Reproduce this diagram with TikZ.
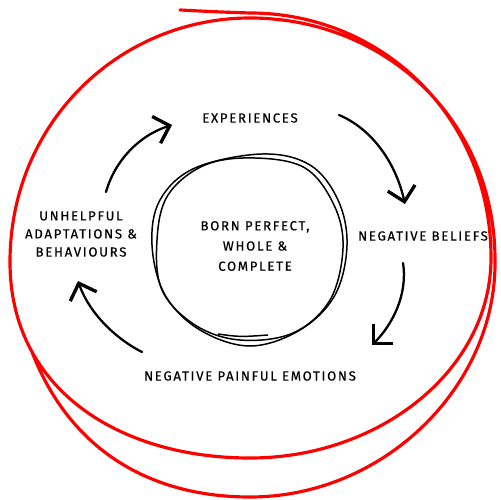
\documentclass[tikz,border=0pt]{standalone}
\usepackage{fontspec}
\setmainfont{Fira Sans}[LetterSpace=13, FakeBold=0.4]
\usetikzlibrary{arrows.meta}
\tikzset{
  lbl/.style={font=\fontsize{7.5}{10}\selectfont, inner sep=1pt, align=center, text=black},
  cyc/.style={line width=1.3pt, line cap=round, -{Straight Barb[length=2.8mm,width=5.6mm,line width=1.9pt]}},
  ring/.style={line width=0.85pt, black},
  redloop/.style={line width=1.8pt, red, line cap=round, line join=round},
}
\begin{document}
\begin{tikzpicture}[x=0.02cm,y=-0.02cm]
\useasboundingbox (0,0) rectangle (500,500);
% red hand-drawn spiral
\coordinate (r0) at (32,352);
\coordinate (rb1) at (250,497);
\coordinate (rr1) at (495,260);
\coordinate (rt1) at (250,18);
\coordinate (rl) at (10,262);
\coordinate (rb2) at (250,458);
\coordinate (rr2) at (491,258);
\coordinate (rt2) at (250,13);
\coordinate (rend) at (180,10);
\draw[redloop] (r0) .. controls (70,450) and (150,497) .. (rb1)
  .. controls (385,497) and (497,385) .. (rr1)
  .. controls (495,120) and (385,18) .. (rt1)
  .. controls (120,18) and (10,122) .. (rl)
  .. controls (10,390) and (120,458) .. (rb2)
  .. controls (380,458) and (491,370) .. (rr2)
  .. controls (491,115) and (380,13) .. (rt2)
  .. controls (220,12) .. (rend);
% inner double ring
\draw[ring] plot[smooth cycle, tension=0.6] coordinates {
 (262,154) (310,165) (338,200) (347,245) (335,295) (300,330) (250,346) (200,330)
 (165,295) (152,245) (160,200) (195,168)};
\draw[ring] plot[smooth cycle, tension=0.6] coordinates {
 (255,158) (305,168) (334,205) (343,248) (330,300) (293,333) (240,340) (195,325)
 (162,290) (157,240) (168,195) (205,165)};
\draw[ring] (218,334) .. controls (240,337) .. (268,335);
% labels
\node[lbl] (exp) at (250,118) {EXPERIENCES};
\node[lbl] (bel) at (423,236) {NEGATIVE BELIEFS};
\node[lbl] (emo) at (250,376) {NEGATIVE PAINFUL EMOTIONS};
\node[lbl, align=center] (adp) at (81,234) {UNHELPFUL\\[0.3pt]ADAPTATIONS \&\\[0.3pt]BEHAVIOURS};
\node[lbl, align=center] (born) at (255,246) {BORN PERFECT,\\[1.5pt]WHOLE \&\\[1.5pt]COMPLETE};
% connector endpoints
\coordinate (a1s) at (106,192); \coordinate (a1e) at (172,125);
\coordinate (a2s) at (339,115); \coordinate (a2e) at (405,204);
\coordinate (a3s) at (403,263); \coordinate (a3e) at (372,345);
\coordinate (a4s) at (142,352); \coordinate (a4e) at (78,281);
\draw[cyc] (a1s) .. controls (115,160) and (140,135) .. (a1e);
\draw[cyc] (a2s) .. controls (370,128) and (395,160) .. (a2e);
\draw[cyc] (a3s) .. controls (408,295) and (392,325) .. (a3e);
\draw[cyc] (a4s) .. controls (118,340) and (90,315) .. (a4e);
\end{tikzpicture}
\end{document}
